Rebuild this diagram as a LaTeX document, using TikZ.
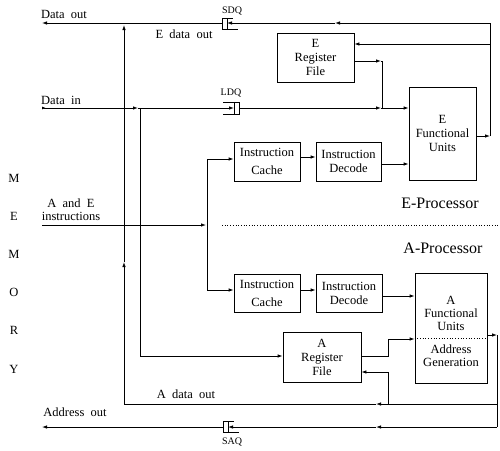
\documentclass[tikz,border=0pt]{standalone}
\usepackage{fontspec}
\setmainfont{Liberation Serif}
\usetikzlibrary{arrows.meta}
\begin{document}
\begin{tikzpicture}[x=1pt,y=-1pt,
  every node/.style={inner sep=0pt},
  box/.style={draw,line width=0.8pt,align=center,font=\fontsize{12.5}{14}\selectfont},
  lbl/.style={font=\fontsize{12.5}{13}\selectfont,align=center},
  qlbl/.style={font=\fontsize{10}{11}\selectfont},
  big/.style={font=\fontsize{16}{18}\selectfont},
  ln/.style={line width=0.8pt},
  tip/.style={-{Latex[length=5pt,width=3.5pt]}},
  mid/.style={-{Latex[length=5pt,width=3.5pt]}}
]
\useasboundingbox (0,0) rectangle (500,450);

% boxes
\node[box,minimum width=77pt,minimum height=49pt] (erf) at (315.5,57.5) {E\\Register\\File};
\node[box,minimum width=67pt,minimum height=93pt] (efu) at (442.5,133.5) {E\\Functional\\Units};
\node[box,minimum width=66pt,minimum height=39pt] (eic) at (267,161.5) {Instruction\\[4pt]Cache};
\node[box,minimum width=65pt,minimum height=39pt] (eid) at (348.5,161.5) {Instruction\\Decode};
\node[box,minimum width=66pt,minimum height=38pt] (aic) at (267,293) {Instruction\\[4pt]Cache};
\node[box,minimum width=66pt,minimum height=38pt] (aid) at (349,293) {Instruction\\Decode};
\node[box,minimum width=72pt,minimum height=110pt] (afu) at (451,328) {};
\node[lbl] (afut) at (451,313) {A\\Functional\\Units};
\node[lbl] (afub) at (451,356) {Address\\Generation};
\coordinate (dv) at (0,338);
\draw[dotted,line width=0.7pt] (afu.west |- dv) -- (afu.east |- dv);
\node[box,minimum width=78pt,minimum height=50pt] (arf) at (322,357) {A\\Register\\File};

% labels
\node[lbl] (l1) at (64,14) {Data\ \ out};
\node[lbl] (l2) at (61,100) {Data\ \ in};
\node[lbl] (l3) at (184,34) {E\ \ data\ \ out};
\node[lbl] (l4) at (71,209.5) {A\ \ and\ \ E\\instructions};
\node[lbl] (l5) at (186,394) {A\ \ data\ \ out};
\node[lbl] (l6) at (75,412) {Address\ \ out};
\node[qlbl] (q1) at (232,11) {SDQ};
\node[qlbl] (q2) at (231,93) {LDQ};
\node[qlbl] (q3) at (232,442) {SAQ};
\node[big] (ep) at (440,203) {E-Processor};
\node[big] (ap) at (443,248) {A-Processor};
\foreach \l/\yy [count=\i] in {M/178,E/216,M/254,O/292,R/330,Y/369}
  \node[lbl] (mem\i) at (14,\yy) {\l};

% queues
\draw[ln] (222,18) rectangle (227,29) (227,18) -- (233,18) (227,29) -- (238,29);
\draw[ln] (234,102) rectangle (239,114) (223,102) -- (234,102) (223,114) -- (234,114);
\draw[ln] (223,421) rectangle (228,432) (228,421) -- (234,421) (228,432) -- (239,432);
\coordinate (sdqL) at (222,23);
\coordinate (sdqT) at (227,23);
\coordinate (ldqL) at (223,108);
\coordinate (ldqT) at (234,108);
\coordinate (ldqR) at (239,108);
\coordinate (saqL) at (223,427);
\coordinate (saqT) at (228,427);

% coordinates
\coordinate (dout) at (42,23);
\coordinate (rtop) at (490,23);
\coordinate (rfb) at (490,44);
\coordinate (rmid) at (490,136);
\coordinate (m1) at (335,23);
\coordinate (din) at (42,108);
\coordinate (j124t) at (124,23);
\coordinate (j124m) at (124,262);
\coordinate (j124b) at (124,404);
\coordinate (d1) at (138,108);
\coordinate (j140) at (140,108);
\coordinate (j140b) at (140,356);
\coordinate (j382) at (382,108);
\coordinate (j382t) at (382,61);
\coordinate (m2) at (381,108);
\coordinate (m3) at (381,61);
\coordinate (ins) at (42,225);
\coordinate (m4) at (206,225);
\coordinate (j207t) at (207,159);
\coordinate (j207b) at (207,290);
\coordinate (eo) at (0,164);
\coordinate (ao) at (0,296);
\coordinate (j388a) at (388,356);
\coordinate (j388b) at (388,339);
\coordinate (j388c) at (388,372);
\coordinate (j388d) at (388,404);
\coordinate (r2) at (497,335);
\coordinate (r2a) at (497,404);
\coordinate (r2b) at (497,427);
\coordinate (m5) at (376,404);
\coordinate (m6) at (376,427);
\coordinate (aout) at (42,427);
\coordinate (dsep) at (222,225);
\coordinate (dsepe) at (499,225);

% Data out
\draw[ln,mid] (rtop) -- (m1);
\draw[ln,tip] (m1) -- (sdqT);
\draw[ln,tip] (sdqL) -- (dout);
% right feedback
\draw[ln,tip] ([yshift=-2.5pt]efu.east) -- (rmid);
\draw[ln] (rmid) -- (rtop);
\draw[ln,tip] (rfb) -- (erf.east |- rfb);
% A data out path
\draw[ln,tip] (r2a) -- (m5);
\draw[ln] (m5) -- (j124b);
\draw[ln,tip] (j124b) -- (j124m);
\draw[ln,tip] (j124m) -- ([yshift=-2pt]j124t);
% Data in
\draw[ln,{Latex[length=4pt,width=3pt,reversed]}-{Latex[length=5pt,width=3.5pt]}] (din) -- (d1);
\draw[ln] (d1) -- (ldqL);
\draw[ln,tip] (ldqL) -- (ldqT);
\draw[ln,tip] (ldqR) -- (m2);
\draw[ln,tip] (m2) -- (efu.west |- j382);
\draw[ln,tip] ([yshift=-3.5pt]erf.east) -- (m3);
\draw[ln] (m3) -- (j382t) -- (j382);
\draw[ln] (j140) -- (j140b);
\draw[ln,tip] (j140b) -- (arf.west |- j140b);
% instructions
\draw[ln,tip] (ins) -- (m4);
\draw[ln] (j207t) -- (j207b);
\draw[ln,tip] (j207t) -- (eic.west |- j207t);
\draw[ln,tip] (j207b) -- (aic.west |- j207b);
\draw[dotted,line width=0.7pt] (dsep) -- (dsepe);
% E pipeline
\draw[ln,tip] ([yshift=4.5pt]eic.east) -- ([yshift=4.5pt]eid.west);
\draw[ln,tip] (eid.east |- eo) -- (efu.west |- eo);
% A pipeline
\draw[ln,tip] ([yshift=3pt]aic.east) -- ([yshift=3pt]aid.west);
\draw[ln,tip] (aid.east |- ao) -- (afu.west |- ao);
% A register file
\draw[ln] (arf.east |- j388a) -- (j388a) -- (j388b);
\draw[ln,tip] (j388b) -- (afu.west |- j388b);
\draw[ln] (j388d) -- (j388c);
\draw[ln,tip] (j388c) -- (arf.east |- j388c);
% AFU out
\draw[ln,tip] (afu.east |- r2) -- (r2);
\draw[ln] (r2) -- (r2b);
% Address out
\draw[ln,tip] (r2b) -- (m6);
\draw[ln,tip] (m6) -- (saqT);
\draw[ln,tip] (saqL) -- (aout);
\end{tikzpicture}
\end{document}
